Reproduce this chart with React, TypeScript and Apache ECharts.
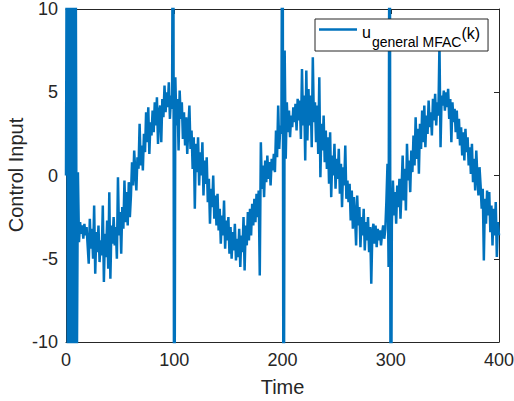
import React, { useEffect, useRef } from "react";
import * as echarts from "echarts";

// u(k) for k = 0..99
const uSeg0 = [
  0, 22, -28, 26, -24, 21, -19, 17, -15, 13,
  -12, 0.2, -4.0, -2.8, -3.5, -3.0, -3.8, -2.9, -3.6, -3.1,
  -4.2, -5.3, -2.6, -4.4, -3.2, -5.0, -1.8, -5.9, -3.4, -4.6,
  -3.0, -5.2, -3.9, -4.8, -1.8, -6.4, -3.5, -4.9, -2.7, -5.6,
  -1.0, -6.2, -3.0, -4.1, -2.5, -4.2, -3.1, -5.0, -0.1, -3.6,
  -2.2, -4.7, -1.9, -3.2, -0.3, -2.8, -1.0, -3.0, -0.4, -2.5,
  -1.2, 0.8, -0.6, 1.5, 0.2, -0.9, 1.1, 0.4, 3.1, 0.6,
  1.8, 0.3, 2.5, 1.4, 3.8, 2.0, 4.1, 1.3, 3.2, 2.4,
  3.9, 2.6, 4.4, 3.0, 4.7, 1.9, 3.8, 4.2, 2.0, 4.6,
  3.5, 5.4, 3.8, 5.0, 4.1, 5.6, 3.4, 4.8, 4.0, 25,
];
// k = 100..199
const uSeg1 = [
  -25, 5.9, 3.0, 4.6, 1.5, 5.1, 3.4, 4.4, 2.2, 3.8,
  1.8, 3.5, 1.3, 2.9, 4.2, 1.6, 2.7, 0.4, 2.3, -2.0,
  1.9, 0.2, 2.3, -0.6, 1.4, 0.0, 2.0, -1.2, 0.9, -0.5,
  1.1, -1.6, -0.2, -2.9, -0.8, -1.9, 0.0, -2.6, -1.2, -3.0,
  -1.1, -3.3, -2.0, -4.1, -2.4, -3.6, -1.5, -4.4, -2.7, -3.9,
  -2.5, -4.7, -3.1, -5.0, -3.4, -4.5, -2.9, -5.1, -3.8, -4.9,
  -3.2, -5.5, -3.6, -4.6, -2.5, -5.7, -3.0, -4.2, -2.2, -3.9,
  -2.0, -3.6, -1.7, -3.0, -1.4, -2.8, -1.1, -2.5, -0.9, -6.0,
  2.0, -0.8, 0.6, -1.3, 0.9, -0.4, 1.2, -0.2, 0.8, -0.6,
  1.0, 0.3, 1.3, 0.2, 2.7, 1.1, 4.2, 1.6, 3.0, 2.5,
];
// k = 200..299
const uSeg2 = [
  25, -25, 7.5, 1.0, 4.4, 2.6, 3.9, 2.3, 3.6, 2.9,
  4.1, 3.2, 4.3, 2.7, 4.6, 3.3, 4.5, 2.2, 6.4, 3.0,
  4.8, 0.9, 6.3, 2.1, 5.2, 3.0, 4.8, 1.7, 7.1, 3.2,
  4.4, 2.0, 4.2, 1.3, 5.9, -0.1, 3.1, 1.5, 3.6, 0.8,
  2.7, 0.4, 2.3, -0.5, 2.6, -1.3, 1.2, 0.0, 1.9, -0.8,
  1.0, -0.2, 1.6, -1.1, 0.7, -1.9, 0.5, -0.6, 1.8, -1.4,
  -0.3, -1.6, -0.5, -2.7, -0.9, -3.2, -1.3, -2.4, -4.2, -1.2,
  -3.0, -1.9, -4.3, -2.5, -3.6, -2.0, -4.5, -2.8, -3.9, -2.5,
  -4.6, -3.1, -6.5, -3.4, -2.9, -4.1, -3.0, -4.3, -3.2, -3.9,
  -3.3, -4.2, -3.5, -3.0, -3.8, -3.2, -1.5, 0.7, -5.5, 25,
];
// k = 300..400
const uSeg3 = [
  -25, -3.0, -0.3, -2.4, -1.0, -2.9, -0.6, -1.9, -0.2, -2.6,
  -0.8, 1.2, -1.5, 0.4, -2.1, 1.9, -0.3, 0.9, -1.0, 1.5,
  0.2, 2.4, 0.6, 3.5, 1.0, 2.8, 0.1, 3.1, 1.6, 3.9,
  2.0, 4.2, 1.7, 3.6, 2.5, 4.5, 2.9, 3.8, 2.4, 4.6,
  3.3, 4.9, 3.0, 4.4, 3.6, 7.9, 1.7, 4.8, 4.2, 5.1,
  3.9, 5.0, 4.1, 5.2, 3.4, 4.6, 2.0, 4.4, 3.2, 4.0,
  2.6, 3.9, 2.2, 3.4, 1.8, 2.9, 1.2, 2.6, 0.9, 2.8,
  1.4, 2.3, 0.6, 1.7, 0.1, 1.9, -0.4, 1.0, -0.9, 1.5,
  0.0, -1.2, 0.5, -0.6, -2.0, -0.8, -5.1, -1.4, -2.9, -0.9,
  -2.4, -1.0, -3.4, -1.8, -4.2, -2.0, -3.6, -1.6, -4.9, -2.8,
  -3.6,
];

const xTicks = [0, 100, 200, 300, 400];
const yTicks = [-10, -5, 0, 5, 10];
const seriesName = "u_general MFAC(k)";
const yTitle = "Control Input";
const xTitle = "Time";

const FONT = "'Liberation Sans', Arial, Helvetica, sans-serif";
const AX = "#262626";

export default function App() {
  const ref = useRef<HTMLDivElement>(null);
  useEffect(() => {
    if (!ref.current) return;
    const chart = echarts.init(ref.current, undefined, { renderer: "svg" });
    const u = [...uSeg0, ...uSeg1, ...uSeg2, ...uSeg3];
    const data = u.map((v, k) => [k, v]);
    const xMin = xTicks[0];
    const xMax = xTicks[xTicks.length - 1];
    const xInt = xTicks[1] - xTicks[0];
    const yMin = yTicks[0];
    const yMax = yTicks[yTicks.length - 1];
    const yInt = yTicks[1] - yTicks[0];
    const axisCommon = {
      axisLine: { show: true, onZero: false, lineStyle: { color: AX, width: 1 } },
      axisTick: { show: true, inside: true, length: 5, lineStyle: { color: AX, width: 1 } },
      splitLine: { show: false },
    };
    chart.setOption({
      animation: false,
      backgroundColor: "#ffffff",
      textStyle: { fontFamily: FONT },
      grid: { left: 66, right: 15, top: 9, bottom: 59, containLabel: false, outerBoundsMode: "none" },
      graphic: [
        {
          type: "text",
          x: 16,
          y: 175,
          rotation: Math.PI / 2,
          silent: true,
          style: {
            text: yTitle,
            fill: AX,
            fontSize: 20,
            fontFamily: FONT,
            align: "center",
            verticalAlign: "middle",
          },
        },
      ],
      xAxis: [
        {
          type: "value",
          position: "bottom",
          min: xMin,
          max: xMax,
          interval: xInt,
          ...axisCommon,
          axisLabel: { show: true, color: AX, fontSize: 18, fontFamily: FONT, margin: 9 },
          name: xTitle,
          nameLocation: "middle",
          nameGap: 35,
          nameTextStyle: { color: AX, fontSize: 20, fontFamily: FONT },
        },
        {
          type: "value",
          position: "top",
          min: xMin,
          max: xMax,
          interval: xInt,
          ...axisCommon,
          axisLabel: { show: false },
        },
      ],
      yAxis: [
        {
          type: "value",
          position: "left",
          min: yMin,
          max: yMax,
          interval: yInt,
          ...axisCommon,
          axisLabel: { show: true, color: AX, fontSize: 18, fontFamily: FONT, margin: 8 },
        },
        {
          type: "value",
          position: "right",
          min: yMin,
          max: yMax,
          interval: yInt,
          ...axisCommon,
          axisLabel: { show: false },
        },
      ],
      legend: {
        show: true,
        left: 315,
        top: 19,
        orient: "vertical",
        padding: [2, 8, 2, 4],
        itemWidth: 38,
        itemHeight: 2.5,
        backgroundColor: "#ffffff",
        borderColor: AX,
        borderWidth: 1,
        borderRadius: 0,
        data: [{ name: seriesName, icon: "rect" }],
        formatter: () => "{u|u}{sub|general MFAC}{sup|(k)}",
        textStyle: {
          color: "#000000",
          fontFamily: FONT,
          rich: {
            u: { fontSize: 16, lineHeight: 17, verticalAlign: "top", padding: [3, 0, 0, 0], fontFamily: FONT, color: "#000" },
            sub: { fontSize: 14, lineHeight: 15, verticalAlign: "top", padding: [14, 0, 0, 1], fontFamily: FONT, color: "#000" },
            sup: { fontSize: 16, lineHeight: 17, verticalAlign: "top", padding: [4, 0, 0, 0], fontFamily: FONT, color: "#000" },
          },
        },
      },
      series: [
        {
          name: seriesName,
          type: "line",
          data,
          xAxisIndex: 0,
          yAxisIndex: 0,
          symbol: "none",
          showSymbol: false,
          clip: true,
          color: "#0072BD",
          lineStyle: { color: "#0072BD", width: 2.5 },
        },
      ],
    });
    return () => chart.dispose();
  }, []);
  return (
    <div
      ref={ref}
      style={{ position: "fixed", left: 0, top: 0, width: 514, height: 401, background: "#fff" }}
    />
  );
}
